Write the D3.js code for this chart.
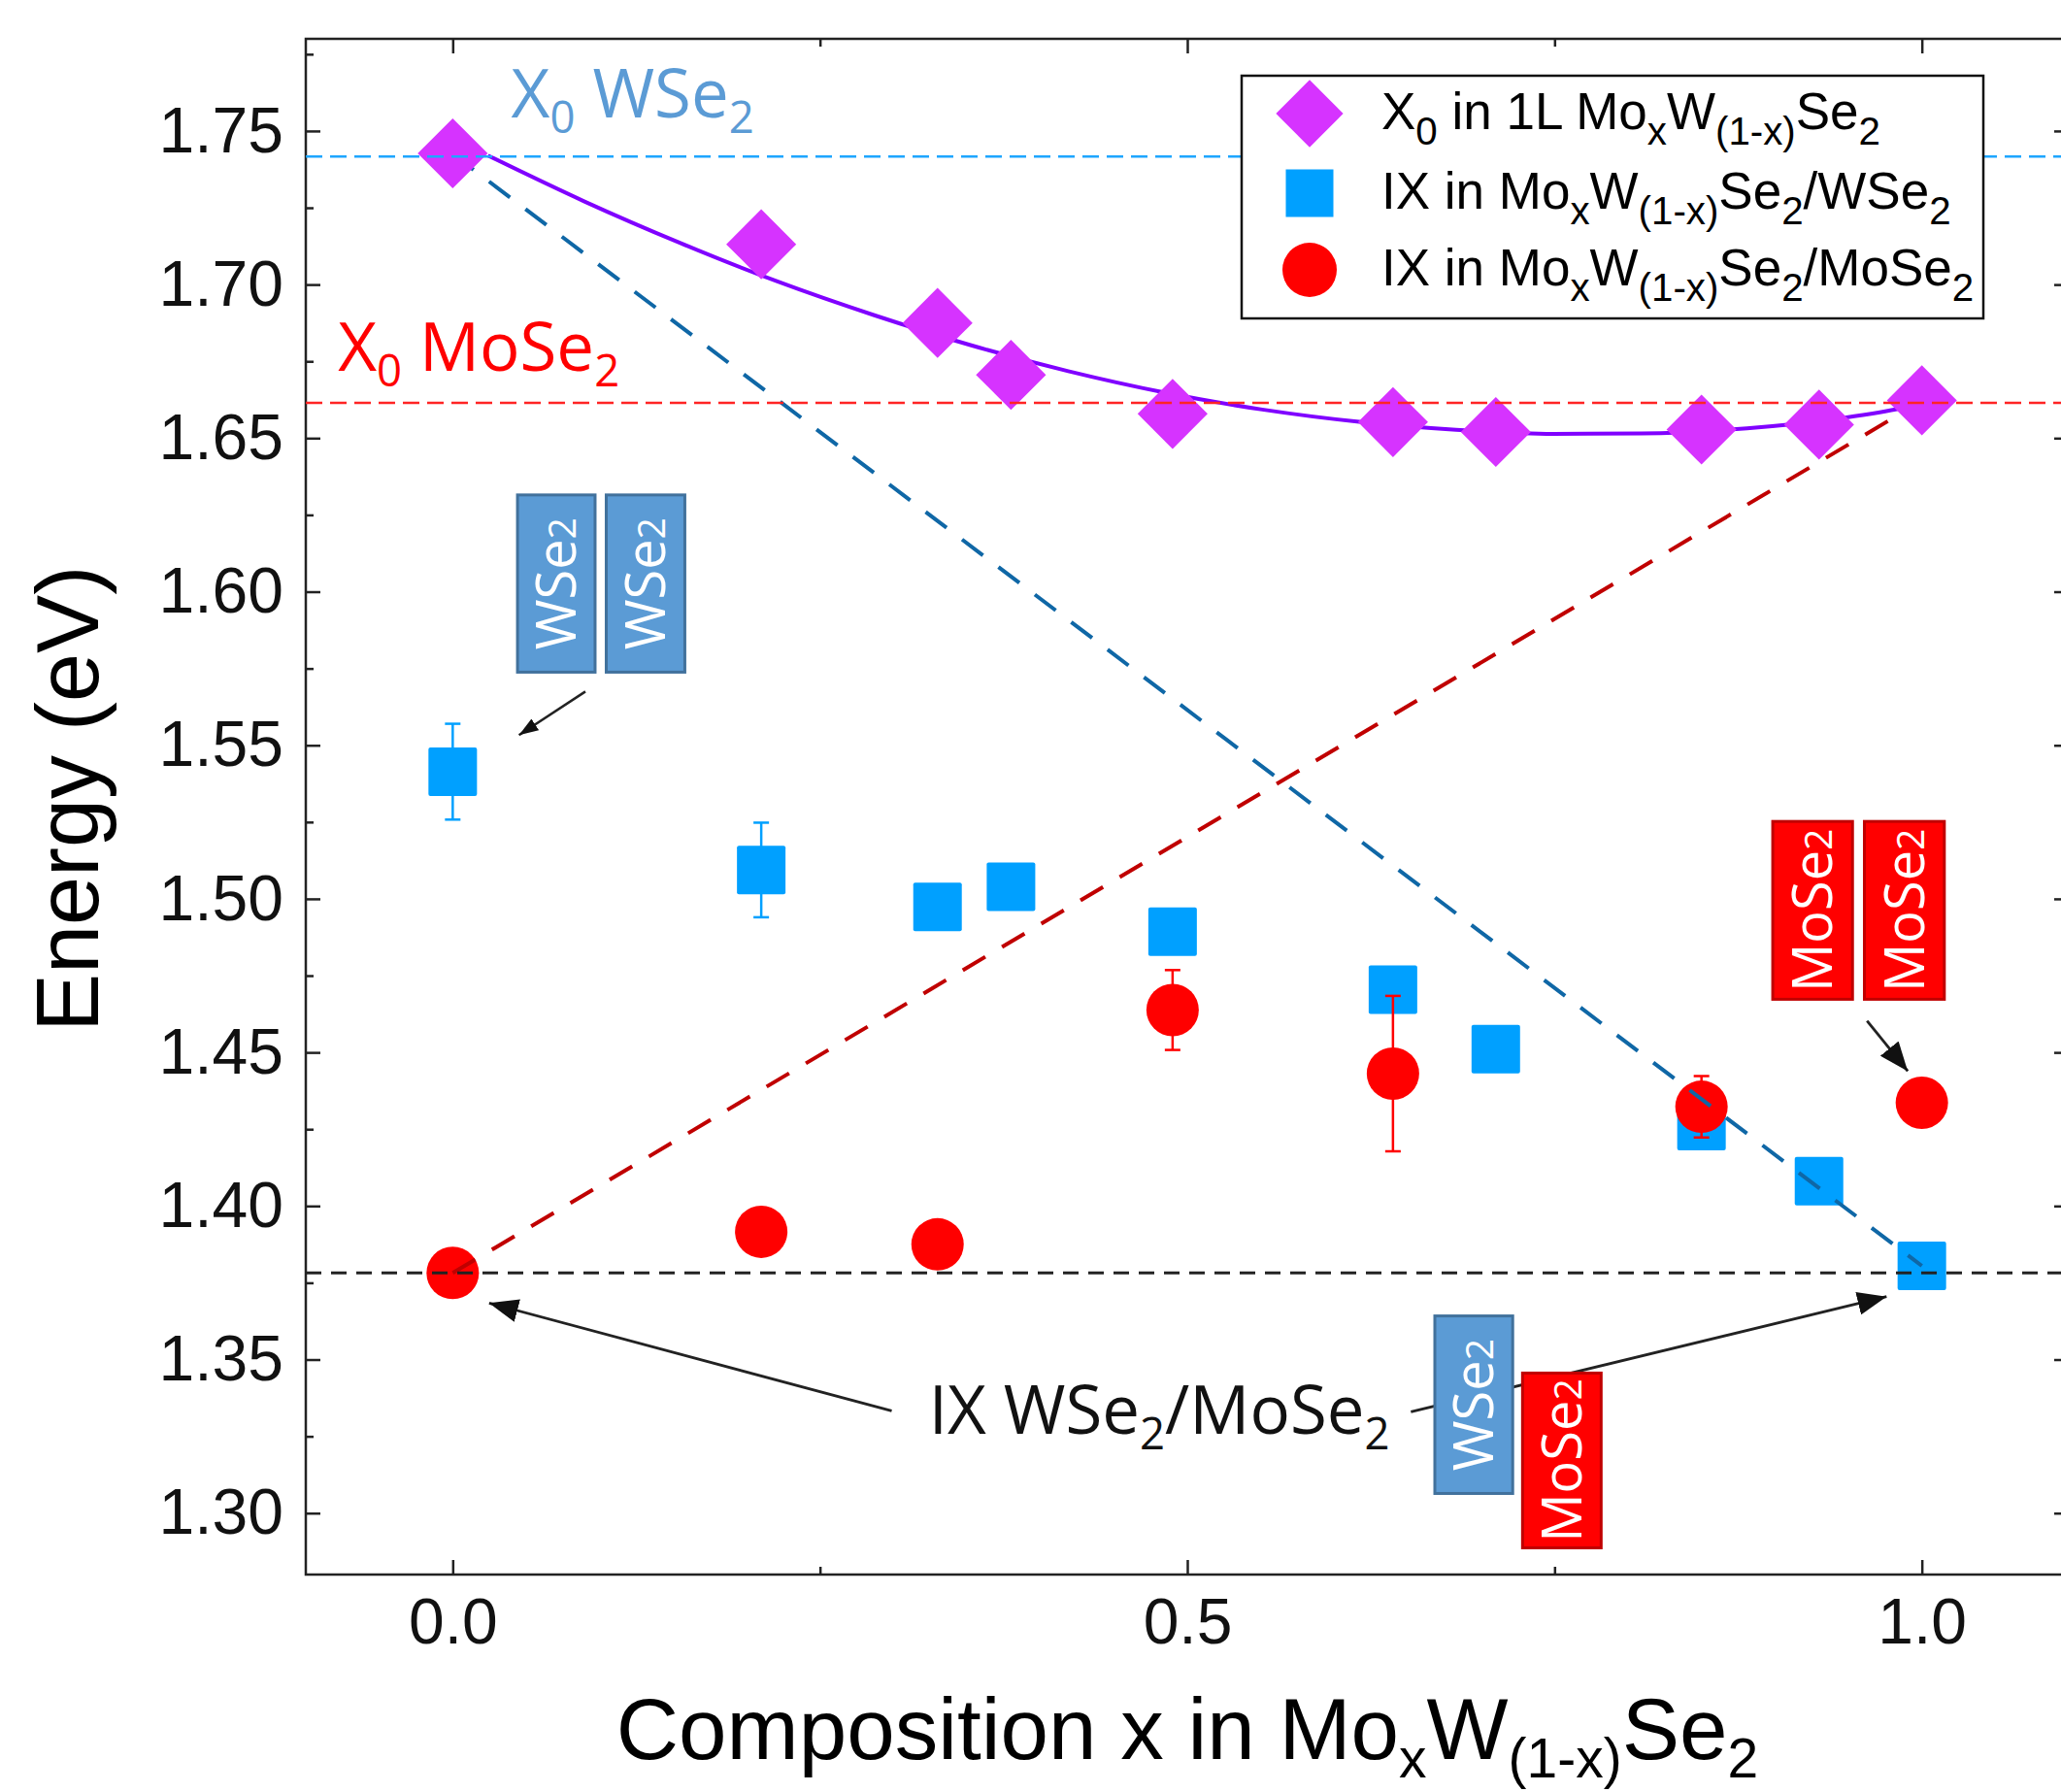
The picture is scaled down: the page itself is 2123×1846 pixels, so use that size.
<!DOCTYPE html>
<meta charset="utf-8">
<script src="https://cdn.jsdelivr.net/npm/d3@7"></script>
<style>
  body { margin: 0; background: #fff; }
  text { font-family: "Liberation Sans", Arial, sans-serif; white-space: pre; }
  .note { font-family: "Open Sans", sans-serif; }
</style>

<div id="js_chart"></div>

<script>
// ******************************************
// data
// ******************************************
const compX0   = [0, 0.21, 0.33, 0.38, 0.49, 0.64, 0.71, 0.85, 0.93, 1.0];
const energyX0 = [1.7427, 1.7131, 1.6875, 1.6706, 1.6579, 1.6552, 1.6520, 1.6528, 1.6544, 1.6623];

const compIXW   = [0, 0.21, 0.33, 0.38, 0.49, 0.64, 0.71, 0.85, 0.93, 1.0];
const energyIXW = [1.5414, 1.5094, 1.4974, 1.5039, 1.4893, 1.4704, 1.4511, 1.4260, 1.4081, 1.3805];
const errIXW    = [0.0156, 0.0154, 0, 0, 0, 0, 0, 0, 0, 0];

const compIXMo   = [0, 0.21, 0.33, 0.49, 0.64, 0.85, 1.0];
const energyIXMo = [1.3782, 1.3916, 1.3875, 1.4638, 1.4431, 1.4323, 1.4336];
const errIXMo    = [0, 0, 0, 0.013, 0.0253, 0.010, 0];

// fitted curve through the X0 points
const fitComp   = [0.024, 0.089, 0.155, 0.221, 0.287, 0.353, 0.419, 0.485, 0.551, 0.617, 0.683, 0.749, 0.809, 0.881, 0.941, 0.983, 1.0];
const fitEnergy = [1.7420, 1.7272, 1.7135, 1.7010, 1.6900, 1.6802, 1.6718, 1.6648, 1.6593, 1.6553, 1.6527, 1.6514, 1.6515, 1.6532, 1.6562, 1.6594, 1.6612];

// horizontal reference levels: X0 WSe2, X0 MoSe2, IX WSe2/MoSe2
const refLevels = [1.7417, 1.6615, 1.3782];
const refColors = ["#1ea6ff", "#ff2424", "#222222"];
const refDash   = ["17,8", "17,8", "16,10"];

// dashed linear trends [comp, energy]
const trendW  = [[0, 1.7425], [1.0, 1.3805]];
const trendMo = [[0, 1.3782], [1.0, 1.6621]];

const xMajor = [0, 0.5, 1.0];
const xMinor = [0.25, 0.75];
const yMajor = [1.30, 1.35, 1.40, 1.45, 1.50, 1.55, 1.60, 1.65, 1.70, 1.75];
const yMinor = [1.325, 1.375, 1.425, 1.475, 1.525, 1.575, 1.625, 1.675, 1.725, 1.775];

// layer boxes [x0, x1, eTop, eBottom], label, kind
const boxes = [
    [0.0441, 0.0969, 1.6315, 1.5738, "W"],
    [0.1045, 0.1580, 1.6315, 1.5738, "W"],
    [0.8985, 0.9528, 1.5252, 1.4673, "Mo"],
    [0.9609, 1.0153, 1.5252, 1.4673, "Mo"],
    [0.6685, 0.7215, 1.3642, 1.3064, "W"],
    [0.7282, 0.7817, 1.3456, 1.2887, "Mo"]
];

// arrows [x from, e from, x to, e to, head]
const arrows = [
    [0.0903, 1.5675, 0.0451, 1.5533, "small"],
    [0.9627, 1.4603, 0.9904, 1.4439, "big"],
    [0.2988, 1.3333, 0.0248, 1.3684, "big"],
    [0.6522, 1.3330, 0.9760, 1.3705, "big"]
];

const notes = [
    {x: 0.0398, e: 1.7545, color: "#5b9bd5", parts: [["X"], ["0", 1], [" WSe"], ["2", 1]]},
    {x: -0.0781, e: 1.6720, color: "#ff0000", parts: [["X"], ["0", 1], [" MoSe"], ["2", 1]]},
    {x: 0.3240, e: 1.3257, color: "#111111", parts: [["IX WSe"], ["2", 1], ["/MoSe"], ["2", 1]]}
];

const legendRows = [
    [["X"], ["0", 1], [" in 1L Mo"], ["x", 1], ["W"], ["(1-x)", 1], ["Se"], ["2", 1]],
    [["IX in Mo"], ["x", 1], ["W"], ["(1-x)", 1], ["Se"], ["2", 1], ["/WSe"], ["2", 1]],
    [["IX in Mo"], ["x", 1], ["W"], ["(1-x)", 1], ["Se"], ["2", 1], ["/MoSe"], ["2", 1]]
];

// ******************************************
function richText(t, parts, size, ratio, shift) {
    let off = 0;
    parts.forEach(function (p) {
        const sub = !!p[1];
        const ts = t.append("tspan").text(p[0]);
        const target = sub ? shift : 0;
        if (target !== off) { ts.attr("dy", target - off); off = target; }
        if (sub) ts.attr("font-size", size * ratio);
    });
}

function createPlot() {
    const W = 2123, H = 1846;
    const left = 315, top = 40, right = 2131, bottom = 1622;

    const x = d3.scaleLinear().domain([-0.1, 1.1]).range([left, right]);
    const y = d3.scaleLinear().domain([1.28, 1.78]).range([bottom, top]);

    const svg = d3.select("#js_chart").append("svg")
        .attr("width", W).attr("height", H);

    const defs = svg.append("defs");
    [["big", 30, 24], ["small", 20, 14]].forEach(function (m) {
        defs.append("marker")
            .attr("id", "arr-" + m[0])
            .attr("markerUnits", "userSpaceOnUse")
            .attr("markerWidth", m[1]).attr("markerHeight", m[2])
            .attr("refX", m[1]).attr("refY", m[2] / 2)
            .attr("orient", "auto")
            .append("path")
            .attr("d", "M0,0L" + m[1] + "," + (m[2] / 2) + "L0," + m[2] + "Z")
            .attr("fill", "#111");
    });

    // ---------- axes ----------
    function styleAxis(g) {
        g.select(".domain").remove();
        g.selectAll(".tick line").attr("stroke", "#222").attr("stroke-width", 2.5);
        g.selectAll(".tick text").attr("font-size", 66).attr("fill", "#111")
            .attr("font-family", "'Liberation Sans', Arial, sans-serif");
    }

    svg.append("g").attr("transform", "translate(0," + bottom + ")")
        .call(d3.axisBottom(x).tickValues(xMajor).tickSize(-15).tickPadding(24).tickFormat(d3.format(".1f")))
        .call(styleAxis);
    svg.append("g").attr("transform", "translate(0," + bottom + ")")
        .call(d3.axisBottom(x).tickValues(xMinor).tickSize(-8).tickFormat(""))
        .call(styleAxis);
    svg.append("g").attr("transform", "translate(0," + top + ")")
        .call(d3.axisTop(x).tickValues(xMajor).tickSize(-15).tickFormat(""))
        .call(styleAxis);
    svg.append("g").attr("transform", "translate(0," + top + ")")
        .call(d3.axisTop(x).tickValues(xMinor).tickSize(-8).tickFormat(""))
        .call(styleAxis);

    svg.append("g").attr("transform", "translate(" + left + ",0)")
        .call(d3.axisLeft(y).tickValues(yMajor).tickSize(-15).tickPadding(23).tickFormat(d3.format(".2f")))
        .call(styleAxis);
    svg.append("g").attr("transform", "translate(" + left + ",0)")
        .call(d3.axisLeft(y).tickValues(yMinor).tickSize(-8).tickFormat(""))
        .call(styleAxis);
    svg.append("g").attr("transform", "translate(" + right + ",0)")
        .call(d3.axisRight(y).tickValues(yMajor).tickSize(-15).tickFormat(""))
        .call(styleAxis);
    svg.append("g").attr("transform", "translate(" + right + ",0)")
        .call(d3.axisRight(y).tickValues(yMinor).tickSize(-8).tickFormat(""))
        .call(styleAxis);

    svg.append("rect")
        .attr("x", left).attr("y", top)
        .attr("width", right - left).attr("height", bottom - top)
        .attr("fill", "none").attr("stroke", "#222").attr("stroke-width", 2.5);

    // axis titles
    const xt = svg.append("text")
        .attr("x", (left + right) / 2).attr("y", 1812)
        .attr("text-anchor", "middle").attr("font-size", 89).attr("fill", "#000");
    richText(xt, [["Composition x in Mo"], ["x", 1], ["W"], ["(1-x)", 1], ["Se"], ["2", 1]], 89, 0.64, 19);

    svg.append("text")
        .attr("transform", "translate(101,823) rotate(-90)")
        .attr("text-anchor", "middle").attr("font-size", 90).attr("fill", "#000")
        .text("Energy (eV)");

    // ---------- plot ----------
    const plot = svg.append("g");

    const fitData = fitComp.map(function (c, i) { return [c, fitEnergy[i]]; });
    plot.append("path")
        .datum(fitData)
        .attr("d", d3.line().x(function (d) { return x(d[0]); }).y(function (d) { return y(d[1]); }).curve(d3.curveMonotoneX))
        .attr("fill", "none").attr("stroke", "#8000ff").attr("stroke-width", 4);

    const sq = compIXW.map(function (c, i) { return {c: c, e: energyIXW[i], err: errIXW[i]}; });
    const ci = compIXMo.map(function (c, i) { return {c: c, e: energyIXMo[i], err: errIXMo[i]}; });
    const di = compX0.map(function (c, i) { return {c: c, e: energyX0[i]}; });

    function errorBars(data, color) {
        const g = plot.append("g").attr("stroke", color).attr("stroke-width", 2.5);
        data.filter(function (d) { return d.err > 0; }).forEach(function (d) {
            const cx = x(d.c), y0 = y(d.e + d.err), y1 = y(d.e - d.err);
            g.append("line").attr("x1", cx).attr("x2", cx).attr("y1", y0).attr("y2", y1);
            g.append("line").attr("x1", cx - 8).attr("x2", cx + 8).attr("y1", y0).attr("y2", y0);
            g.append("line").attr("x1", cx - 8).attr("x2", cx + 8).attr("y1", y1).attr("y2", y1);
        });
    }

    errorBars(sq, "#00a0ff");
    plot.append("g").selectAll("rect").data(sq).enter().append("rect")
        .attr("x", function (d) { return x(d.c) - 25; })
        .attr("y", function (d) { return y(d.e) - 25; })
        .attr("width", 50).attr("height", 50).attr("rx", 2)
        .attr("fill", "#00a0ff");

    errorBars(ci, "#ff0000");
    plot.append("g").selectAll("circle").data(ci).enter().append("circle")
        .attr("cx", function (d) { return x(d.c); })
        .attr("cy", function (d) { return y(d.e); })
        .attr("r", 27).attr("fill", "#ff0000");

    // dashed trends
    const lineXY = d3.line().x(function (d) { return x(d[0]); }).y(function (d) { return y(d[1]); });
    plot.append("path").datum(trendW).attr("d", lineXY)
        .attr("fill", "none").attr("stroke", "#0f67a6").attr("stroke-width", 4).attr("stroke-dasharray", "27,20");
    plot.append("path").datum(trendMo).attr("d", lineXY)
        .attr("fill", "none").attr("stroke", "#c00000").attr("stroke-width", 4).attr("stroke-dasharray", "27,20");

    const diamond = d3.symbol().type(d3.symbolSquare).size(51 * 51);
    plot.append("g").selectAll("path").data(di).enter().append("path")
        .attr("d", diamond)
        .attr("transform", function (d) { return "translate(" + x(d.c) + "," + y(d.e) + ") rotate(45)"; })
        .attr("fill", "#d633ff");

    // horizontal references
    plot.append("g").selectAll("line").data(refLevels).enter().append("line")
        .attr("x1", left).attr("x2", right)
        .attr("y1", function (d) { return y(d); }).attr("y2", function (d) { return y(d); })
        .attr("stroke", function (d, i) { return refColors[i]; })
        .attr("stroke-width", function (d, i) { return i === 2 ? 3 : 2.5; })
        .attr("stroke-dasharray", function (d, i) { return refDash[i]; });

    // ---------- annotations ----------
    const ann = svg.append("g");
    arrows.forEach(function (a) {
        ann.append("line")
            .attr("x1", x(a[0])).attr("y1", y(a[1]))
            .attr("x2", x(a[2])).attr("y2", y(a[3]))
            .attr("stroke", "#222").attr("stroke-width", a[4] === "big" ? 2.8 : 2.5)
            .attr("marker-end", "url(#arr-" + a[4] + ")");
    });

    boxes.forEach(function (b) {
        const isW = b[4] === "W";
        const x0 = x(b[0]), x1 = x(b[1]), y0 = y(b[2]), y1 = y(b[3]);
        ann.append("rect")
            .attr("x", x0).attr("y", y0).attr("width", x1 - x0).attr("height", y1 - y0)
            .attr("fill", isW ? "#5b9bd5" : "#ff0000")
            .attr("stroke", isW ? "#41719c" : "#c00000").attr("stroke-width", 3);
        const t = ann.append("text").attr("class", "note")
            .attr("transform", "translate(" + ((x0 + x1) / 2) + "," + ((y0 + y1) / 2) + ") rotate(-90)")
            .attr("y", 20)
            .attr("text-anchor", "middle").attr("font-size", 56).attr("fill", "#fff");
        richText(t, isW ? [["WSe"], ["2", 1]] : [["MoSe"], ["2", 1]], 56, 0.7, 0);
    });

    notes.forEach(function (n) {
        const t = ann.append("text").attr("class", "note")
            .attr("x", x(n.x)).attr("y", y(n.e))
            .attr("font-size", 69).attr("fill", n.color);
        richText(t, n.parts, 69, 0.66, 16);
    });

    // ---------- legend ----------
    const lg = svg.append("g");
    lg.append("rect")
        .attr("x", 1279).attr("y", 78).attr("width", 764).attr("height", 250)
        .attr("fill", "#fff").attr("stroke", "#111").attr("stroke-width", 2.5);

    const rowY = [117, 199, 278];
    lg.append("path").attr("d", d3.symbol().type(d3.symbolSquare).size(49 * 49))
        .attr("transform", "translate(1349," + rowY[0] + ") rotate(45)").attr("fill", "#d633ff");
    lg.append("rect").attr("x", 1349 - 24.5).attr("y", rowY[1] - 24.5)
        .attr("width", 49).attr("height", 49).attr("fill", "#00a0ff");
    lg.append("circle").attr("cx", 1349).attr("cy", rowY[2]).attr("r", 28).attr("fill", "#ff0000");

    legendRows.forEach(function (parts, i) {
        const t = lg.append("text")
            .attr("x", 1423).attr("y", rowY[i] + 16)
            .attr("font-size", 53).attr("fill", "#000");
        richText(t, parts, 53, 0.76, 16);
    });
}

createPlot();
</script>
